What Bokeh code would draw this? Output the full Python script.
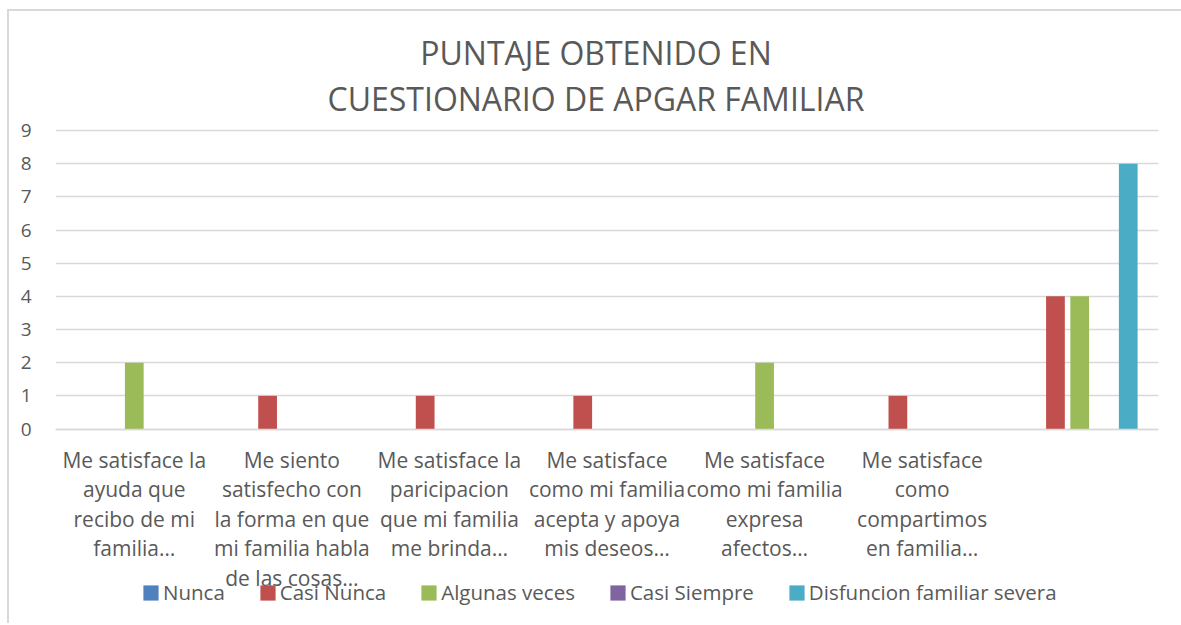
from bokeh.plotting import figure
from bokeh.models import Range1d, FixedTicker, Legend, LegendItem, Label
from bokeh.embed import file_html
from bokeh.resources import INLINE

# ---- data ----
categories = ["c1", "c2", "c3", "c4", "c5", "c6", "c7"]
tick_labels = [
    "Me satisface la\nayuda que\nrecibo de mi\nfamilia…",
    "Me siento\nsatisfecho con\nla forma en que\nmi familia habla\nde las cosas…",
    "Me satisface la\nparicipacion\nque mi familia\nme brinda…",
    "Me satisface\ncomo mi familia\nacepta y apoya\nmis deseos…",
    "Me satisface\ncomo mi familia\nexpresa\nafectos…",
    "Me satisface\ncomo\ncompartimos\nen familia…",
    "",
]
series_names = ["Nunca", "Casi Nunca", "Algunas veces", "Casi Siempre", "Disfuncion familiar severa"]
nunca = [0, 0, 0, 0, 0, 0, 0]
casi_nunca = [0, 1, 1, 1, 0, 1, 4]
algunas_veces = [2, 0, 0, 0, 2, 0, 4]
casi_siempre = [0, 0, 0, 0, 0, 0, 0]
disfuncion = [0, 0, 0, 0, 0, 0, 8]
y_ticks = [0, 1, 2, 3, 4, 5, 6, 7, 8, 9]
title_lines = ["PUNTAJE OBTENIDO EN", "CUESTIONARIO DE APGAR FAMILIAR"]

series_values = [nunca, casi_nunca, algunas_veces, casi_siempre, disfuncion]
colors = ["#4F81BD", "#C0504D", "#9BBB59", "#8064A2", "#4BACC6"]

FONT = "Open Sans"
TXT = "#595959"

# layout geometry (pixels, absolute in page)
FIG_TOP = 11.0
FIG_H = 614
Y9_PX, Y0_PX = 130.0, 428.5
unit = (Y0_PX - Y9_PX) / 9.0
y_lo = -((FIG_TOP + FIG_H) - Y0_PX) / unit
y_hi = 9 + (Y9_PX - FIG_TOP) / unit


def ypix(py):
    return (Y0_PX - py) / unit


p = figure(width=1174, height=FIG_H, output_backend="svg", toolbar_location=None,
           x_range=Range1d(0, len(categories)), y_range=Range1d(y_lo, y_hi),
           min_border_left=46, min_border_right=25, min_border_top=0, min_border_bottom=0,
           margin=(9, 0, 0, 7),
           styles={"border-top": "2px solid #d9d9d9", "border-left": "2px solid #d9d9d9"})
p.outline_line_color = None
p.background_fill_color = "white"
p.border_fill_color = "white"

# x axis drawn at value 0 inside the frame
p.xaxis.fixed_location = 0
p.xaxis.ticker = FixedTicker(ticks=[i + 0.5 for i in range(len(categories))])
p.xaxis.major_label_overrides = {i + 0.5: t for i, t in enumerate(tick_labels)}
p.xaxis.major_tick_line_color = None
p.xaxis.minor_tick_line_color = None
p.xaxis.axis_line_color = "#d9d9d9"
p.xaxis.axis_line_width = 1.5
p.xaxis.major_label_text_font = FONT
p.xaxis.major_label_text_font_size = "21px"
p.xaxis.major_label_text_color = TXT
p.xaxis.major_label_text_line_height = 1.05
p.xaxis.major_label_standoff = 11

p.yaxis.ticker = FixedTicker(ticks=y_ticks)
p.yaxis.major_tick_line_color = None
p.yaxis.minor_tick_line_color = None
p.yaxis.axis_line_color = None
p.yaxis.major_label_text_font = FONT
p.yaxis.major_label_text_font_size = "19px"
p.yaxis.major_label_text_color = TXT
p.yaxis.major_label_standoff = 18

p.xgrid.grid_line_color = None
p.ygrid.grid_line_color = "#d9d9d9"
p.ygrid.grid_line_width = 1.5

# bars
step = 0.154
bw = 0.119
items = []
for j, (name, vals, col) in enumerate(zip(series_names, series_values, colors)):
    xs = [i + 0.5 + (j - 2) * step for i in range(len(categories))]
    r = p.vbar(x=xs, top=vals, bottom=0, width=bw, fill_color=col, line_color=None)
    items.append(LegendItem(label=name, renderers=[r]))

legend = Legend(items=items, orientation="horizontal", location=(86, 19),
                label_text_font=FONT, label_text_font_size="20.5px", label_text_color=TXT,
                glyph_width=19, glyph_height=19, label_standoff=3, spacing=33,
                padding=0, margin=0, border_line_color=None, background_fill_alpha=0,
                label_height=20)
p.add_layout(legend, "center")

# title
for t, py in zip(title_lines, [52, 98]):
    p.add_layout(Label(x=3.43, y=ypix(py), text=t, text_align="center",
                       text_baseline="middle", text_font=FONT, text_font_size="32px",
                       text_color=TXT))

open("out.html", "w").write(file_html(p, INLINE))
